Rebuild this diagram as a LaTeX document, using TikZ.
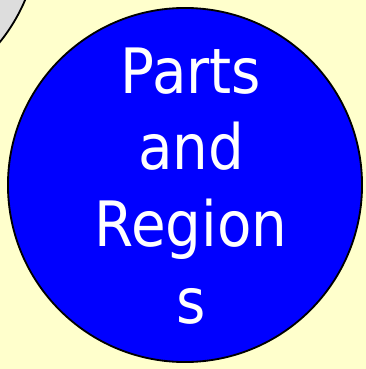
\documentclass[tikz,border=0pt]{standalone}
\usepackage{fontspec}
\setmainfont{DejaVu Sans Condensed}
\usetikzlibrary{positioning}
\definecolor{PaleCream}{HTML}{FFFFCC}
\definecolor{PureBlue}{HTML}{0000FF}
\definecolor{SoftGrey}{HTML}{DDDDDD}

\begin{document}
\begin{tikzpicture}[
  x=0.025cm, y=-0.025cm,
  bubble/.style={circle, draw=black, line width=1.3pt, minimum size=8.85cm, inner sep=0pt},
  caption/.style={text=white, align=center, font=\fontsize{44.5}{54.6}\selectfont}
]
\useasboundingbox (0,0) rectangle (366,369);
\clip (0,0) rectangle (366,369);
\fill[PaleCream] (0,0) rectangle (366,369);
\node[bubble, fill=SoftGrey] (prev) at (-138,-69) {};
\node[bubble, fill=PureBlue] (regions) at (185,185) {};
\node[caption] (label) at (191,186) {Parts\\and\\Region\\s};
\end{tikzpicture}
\end{document}
